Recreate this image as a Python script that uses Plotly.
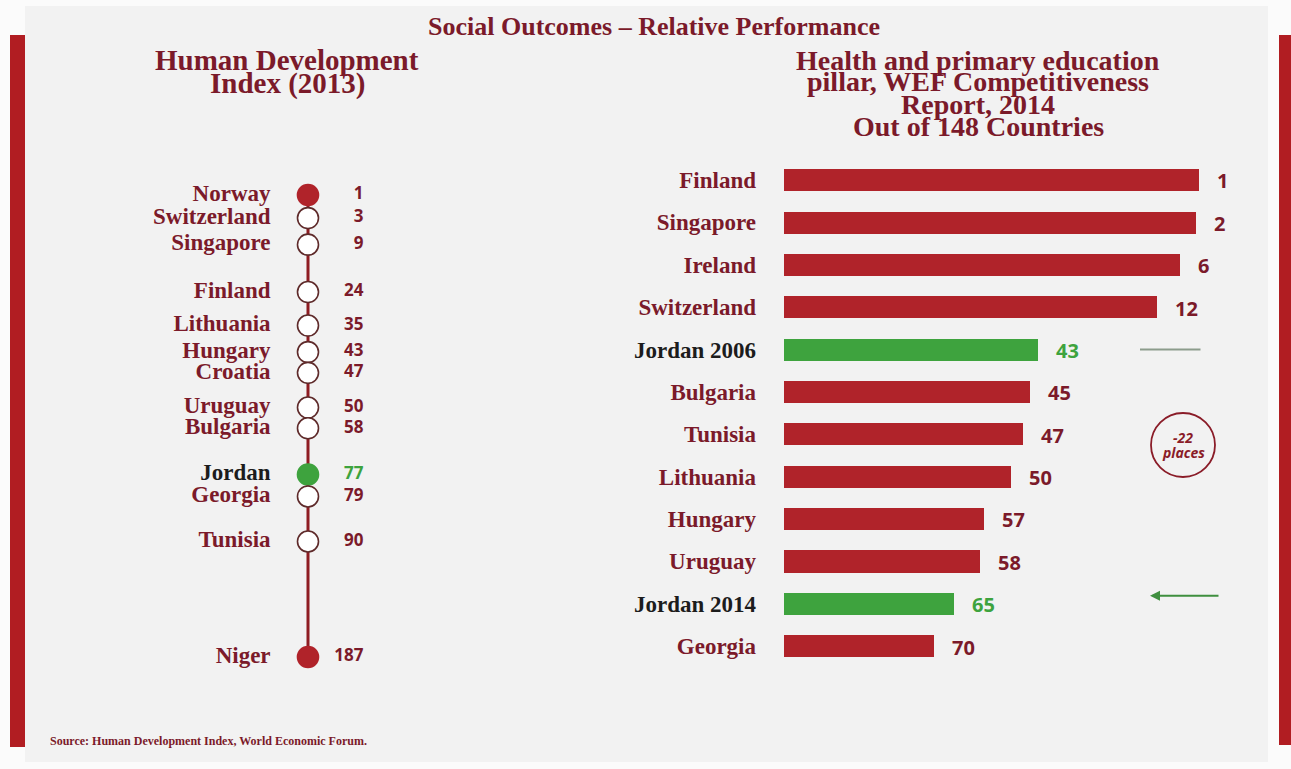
import plotly.graph_objects as go

W, H = 1291, 769

# Human Development Index 2013 - rank of each country
hdi_countries = ["Norway", "Switzerland", "Singapore", "Finland", "Lithuania",
                 "Hungary", "Croatia", "Uruguay", "Bulgaria", "Jordan",
                 "Georgia", "Tunisia", "Niger"]
hdi_ranks = [1, 3, 9, 24, 35, 43, 47, 50, 58, 77, 79, 90, 187]

# WEF Competitiveness Report 2014, health & primary education pillar ranks
wef_countries = ["Finland", "Singapore", "Ireland", "Switzerland", "Jordan 2006",
                 "Bulgaria", "Tunisia", "Lithuania", "Hungary", "Uruguay",
                 "Jordan 2014", "Georgia"]
wef_ranks = [1, 2, 6, 12, 43, 45, 47, 50, 57, 58, 65, 70]
wef_total = 148

# vertical slots of the HDI ladder (row units, top to bottom)
hdi_rows = [0, 1, 2.15, 4.2, 5.65, 6.8, 7.7, 9.2, 10.1, 12.1, 13.05, 15, 20]

MAROON = "#7b1a2a"
RED = "#b0232a"
GREEN = "#3ea33e"
INK = "#1c1c1c"
SERIF = "Liberation Serif"
SANS = "Open Sans"


def px(x):
    return x / W


def py(y):
    return 1 - y / H


is_jordan_hdi = [c.startswith("Jordan") for c in hdi_countries]
is_jordan_wef = [c.startswith("Jordan") for c in wef_countries]
n_hdi = len(hdi_countries)

fill = []
edge = []
for i, j in enumerate(is_jordan_hdi):
    if j:
        fill.append(GREEN)
        edge.append(GREEN)
    elif i == 0 or i == n_hdi - 1:
        fill.append(RED)
        edge.append(RED)
    else:
        fill.append("white")
        edge.append("#5e2a2a")

fig = go.Figure()

# HDI ladder: spine, nodes, country names, ranks
fig.add_trace(go.Scatter(
    x=[0, 0], y=[hdi_rows[0], hdi_rows[-1]], mode="lines",
    line=dict(color="#8e1c22", width=3), hoverinfo="skip",
    xaxis="x", yaxis="y"))
fig.add_trace(go.Scatter(
    x=[0] * n_hdi, y=hdi_rows, mode="markers",
    marker=dict(size=21, color=fill, line=dict(color=edge, width=1.6)),
    xaxis="x", yaxis="y"))
fig.add_trace(go.Scatter(
    x=[-0.29] * n_hdi, y=hdi_rows, mode="text", text=hdi_countries,
    textposition="middle left", cliponaxis=False,
    textfont=dict(family=SERIF, size=23, weight="bold",
                  color=[INK if j else MAROON for j in is_jordan_hdi]),
    xaxis="x", yaxis="y"))
fig.add_trace(go.Scatter(
    x=[0.43] * n_hdi, y=hdi_rows, mode="text", text=[str(r) for r in hdi_ranks],
    textposition="middle left", cliponaxis=False,
    textfont=dict(family=SANS, size=17, weight="bold",
                  color=[GREEN if j else MAROON for j in is_jordan_hdi]),
    xaxis="x", yaxis="y"))

# WEF pillar: longer bar = better rank (countries from the bottom of 148)
bar_len = [wef_total + 1 - r for r in wef_ranks]
fig.add_trace(go.Bar(
    x=bar_len, y=wef_countries, orientation="h", width=0.52,
    marker=dict(color=[GREEN if j else RED for j in is_jordan_wef], line=dict(width=0)),
    xaxis="x2", yaxis="y2"))

# left ladder axes: row units at 23.1 px per row, first row at y=195
unit = 23.1
top_row_px = 195
y_lo = -top_row_px / unit
y_hi = (H - top_row_px) / unit

fig.update_layout(
    width=W, height=H,
    margin=dict(l=0, r=0, t=0, b=0),
    paper_bgcolor="#fbfbfb", plot_bgcolor="rgba(0,0,0,0)",
    showlegend=False, bargap=0,
    xaxis=dict(domain=[0.13857, 0.33857], range=[-1, 1], visible=False, fixedrange=True),
    yaxis=dict(domain=[0, 1], range=[y_hi, y_lo], visible=False, fixedrange=True),
    xaxis2=dict(domain=[px(784), px(1265)], range=[39.84, 165.1], visible=False,
                fixedrange=True),
    yaxis2=dict(domain=[py(667.2), py(158.8)], type="category",
                categoryorder="array", categoryarray=wef_countries,
                range=[len(wef_countries) - 0.5, -0.5], anchor="x2",
                tickvals=wef_countries,
                ticktext=[f"<span style='color:{INK}'>{c}</span>" if j else c
                          for c, j in zip(wef_countries, is_jordan_wef)],
                tickfont=dict(family=SERIF, size=23, weight="bold", color=MAROON),
                showgrid=False, zeroline=False, showline=False, ticks="",
                ticklabelstandoff=27, fixedrange=True),
)

shapes = [
    dict(type="rect", xref="paper", yref="paper", x0=px(25), x1=px(1268),
         y0=py(762), y1=py(6), fillcolor="#f2f2f2", line=dict(width=0), layer="below"),
    dict(type="rect", xref="paper", yref="paper", x0=px(10), x1=px(25),
         y0=py(747), y1=py(35), fillcolor="#b11d22", line=dict(width=0), layer="below"),
    dict(type="rect", xref="paper", yref="paper", x0=px(1279), x1=px(1291),
         y0=py(745), y1=py(35), fillcolor="#b11d22", line=dict(width=0), layer="below"),
    dict(type="circle", xref="paper", yref="paper", x0=px(1151), x1=px(1215),
         y0=py(477), y1=py(413), fillcolor="rgba(0,0,0,0)",
         line=dict(color="#8a1c28", width=1.8)),
]


def label(text, x, y, size, family=SERIF, color=MAROON, xanchor="center", italic=False):
    return dict(text=text, x=px(x), y=py(y), xref="paper", yref="paper",
                xanchor=xanchor, yanchor="middle", showarrow=False,
                font=dict(family=family, size=size, color=color, weight="bold",
                          style="italic" if italic else "normal"))


annotations = [
    label("Social Outcomes – Relative Performance", 654, 27, 26),
    label("Human Development", 287, 60, 29),
    label("Index (2013)", 287, 83, 29),
    label("Health and primary education", 978, 60, 28),
    label("pillar, WEF Competitiveness", 978, 82, 28),
    label("Report, 2014", 978, 104, 28),
    label("Out of 148 Countries", 978, 127, 28),
    label("Source: Human Development Index, World Economic Forum.", 48, 741, 12,
          xanchor="left"),
    label("-22", 1183, 437, 14, family=SANS, color="#8a1c28", italic=True),
    label("places", 1183, 452, 14, family=SANS, color="#8a1c28", italic=True),
    # marker line beside Jordan 2006
    dict(text="", x=px(1140), y="Jordan 2006", xref="paper", yref="y2",
         ax=62, ay=0, showarrow=True, arrowhead=0, arrowwidth=2,
         arrowcolor="#8c9c8c"),
    # arrow pointing at Jordan 2014
    dict(text="", x=px(1150), y="Jordan 2014", xref="paper", yref="y2", yshift=8,
         ax=70, ay=0, showarrow=True, arrowhead=2, arrowsize=1, arrowwidth=2,
         arrowcolor="#3f8f3f"),
]

# rank labels just past the end of each bar
for c, r, v, j in zip(wef_countries, wef_ranks, bar_len, is_jordan_wef):
    annotations.append(dict(
        text=str(r), x=v, y=c, xref="x2", yref="y2", xanchor="left",
        yanchor="middle", xshift=16, yshift=-1, showarrow=False,
        font=dict(family=SANS, size=20, weight="bold",
                  color=GREEN if j else MAROON)))

fig.update_layout(shapes=shapes, annotations=annotations)

fig.write_html("out.html")
